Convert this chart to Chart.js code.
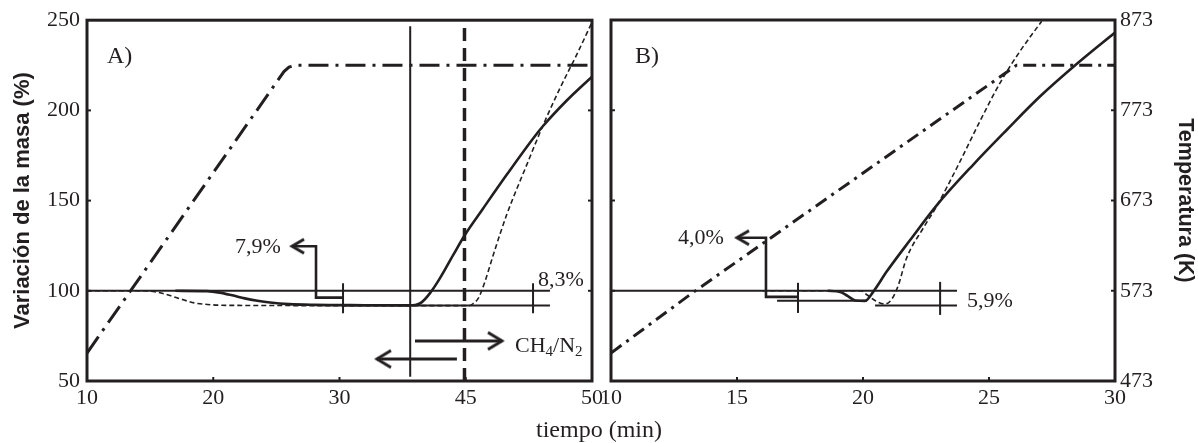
<!DOCTYPE html>
<html><head><meta charset="utf-8">
<script src="https://cdn.jsdelivr.net/npm/chart.js@4.4.1/dist/chart.umd.min.js"></script>
<style>
html,body{margin:0;padding:0;background:#fff;}
#wrap{position:relative;width:1198px;height:443px;overflow:hidden;background:#fff;}
canvas{position:absolute;left:0;top:0;}
#xt{position:absolute;left:0;width:1198px;top:415px;text-align:center;font:24px 'Liberation Serif','Times New Roman',serif;color:#231f20;line-height:28px;}
</style></head><body>
<div id="wrap"><canvas id="cA" width="1198" height="443"></canvas><canvas id="cB" width="1198" height="443"></canvas><div id="xt">tiempo (min)</div></div>
<script>
// ---------- tick values / labels ----------
const xTickValsA = [10, 20, 30, 40, 50];
const xTickLabelsA = ['10', '20', '30', '45', '50'];
const xTickValsB = [10, 15, 20, 25, 30];
const massTickVals = [50, 100, 150, 200, 250];
const tempTickVals = [473, 573, 673, 773, 873];

// ---------- Panel A series ----------
const tA_temp = [10, 25.6, 26.0, 26.5, 50];
const A_temp  = [504, 816, 821, 823, 823];
const tA_solid = [17, 19.5, 20.5, 21.5, 22.5, 23.5, 24.5, 26, 28, 32, 35.5, 36.0, 36.5, 37.17, 37.96, 39.01, 39.94, 41.39, 43.24, 45.35, 46.14, 48.0, 50];
const A_solid  = [100, 99.8, 99, 97.5, 95.8, 94.5, 93.5, 92.6, 92.2, 92.0, 91.9, 92.1, 93.6, 98.7, 107.0, 119.9, 131.1, 145.8, 164.3, 184.6, 191.5, 205.5, 218.7];
const tA_dash = [10, 14.5, 15.5, 16.5, 17.4, 18.5, 20, 22, 30, 40.3, 40.6, 41.0, 41.52, 42.18, 43.24, 44.83, 46.14, 47.47, 48.79, 49.97];
const A_dash  = [100, 100, 99.3, 97.5, 95.5, 93.3, 92.2, 91.9, 91.8, 91.8, 93.0, 95.9, 105.1, 119.9, 142.1, 169.8, 192.0, 212.4, 230.9, 248.4];

// ---------- Panel A reference marks (time, mass) ----------
const A_ref_t = [10, 46.67];            const A_ref_m = [100, 100];
const A_low_t = [30.3, 46.67];          const A_low_m = [91.8, 91.8];
const A_tick1_t = [30.28, 30.28];       const A_tick1_m = [87.6, 104.2];
const A_tick2_t = [45.33, 45.33];       const A_tick2_m = [87.6, 104.2];
const A_brk_t = [26.24, 28.14, 28.14, 30.28]; const A_brk_m = [124.7, 124.7, 96.2, 96.2];
const A_vline_t = [35.6, 35.6];         const A_vline_m = [52.4, 246.6];
const A_vdash_t = [39.9, 39.9];         const A_vdash_m = [50, 246.6];
const A_arrR_t = [35.98, 42.87];        const A_arrR_m = [72.2, 72.2];
const A_arrL_t = [39.3, 32.97];         const A_arrL_m = [62.2, 62.2];

// ---------- Panel B series ----------
const tB_temp = [10, 13.25, 26.1, 30];
const B_temp  = [504, 571, 823, 823];
const tB_solid = [18.6, 19.1, 19.4, 19.7, 20.08, 20.41, 20.94, 21.87, 22.94, 24.37, 25.71, 27.02, 28.5, 30];
const B_solid  = [100, 99.3, 97, 94.6, 94.4, 99.5, 110.6, 128.1, 147.6, 169.8, 189.2, 207.6, 225.9, 243.1];
const tB_dash = [16, 19.9, 20.15, 20.55, 20.87, 21.14, 21.4, 21.73, 22.39, 22.92, 23.72, 24.64, 25.44, 26.23, 27.09];
const B_dash  = [100, 100, 97.8, 94.0, 92.7, 95.3, 103, 118.1, 134.7, 146.7, 168.0, 193.9, 215.2, 232.7, 249.3];

// ---------- Panel B reference marks ----------
const B_ref_t = [10, 23.73];            const B_ref_m = [100, 100];
const B_lowL_t = [16.59, 20.16];        const B_lowL_m = [94.4, 94.4];
const B_lowR_t = [20.48, 23.73];        const B_lowR_m = [91.8, 91.8];
const B_tick1_t = [17.42, 17.42];       const B_tick1_m = [87.7, 104.4];
const B_tick2_t = [23.06, 23.06];       const B_tick2_m = [86.6, 104.9];
const B_brk_t = [15.0, 16.15, 16.15, 17.42]; const B_brk_m = [129.4, 129.4, 96.6, 96.6];

// ---------- styling ----------
const INK = '#231f20';
const SERIF = "'Liberation Serif','Times New Roman',serif";
const SANS = "'Liberation Sans',Arial,sans-serif";

const pts = (xs, ys) => xs.map((x, i) => ({x: x, y: ys[i]}));
function ds(xs, ys, o) {
  return Object.assign({data: pts(xs, ys), borderColor: INK, backgroundColor: INK, pointRadius: 0,
    fill: false, tension: 0, borderCapStyle: 'butt', yAxisID: 'y', borderWidth: 2}, o || {});
}
function chevron(L, H, w) {
  const c = document.createElement('canvas');
  c.width = 2 * (L + 4); c.height = 2 * (H + 4);
  const g = c.getContext('2d');
  const cx = c.width / 2, cy = c.height / 2;
  g.strokeStyle = INK; g.lineWidth = w; g.lineJoin = 'miter'; g.lineCap = 'butt';
  g.beginPath(); g.moveTo(cx + L, cy - H); g.lineTo(cx, cy); g.lineTo(cx + L, cy + H); g.stroke();
  return c;
}
const headBig = chevron(14, 8.5, 3);
const headSmall = chevron(12, 7, 3);
function head(t, m, img, rot) {
  return {data: [{x: t, y: m}], showLine: false, pointRadius: 6, pointStyle: img, pointRotation: rot,
    borderColor: INK, backgroundColor: INK, yAxisID: 'y'};
}

function framePlugin(cfg) {
  return {
    id: 'frame' + cfg.name,
    afterDatasetsDraw(chart) {
      const ctx = chart.ctx, a = chart.chartArea;
      const xs = chart.scales.x, ys = chart.scales.y;
      ctx.save();
      ctx.strokeStyle = INK;
      ctx.lineWidth = 2;
      const seg = (x1, y1, x2, y2) => { ctx.beginPath(); ctx.moveTo(x1, y1); ctx.lineTo(x2, y2); ctx.stroke(); };
      cfg.xInner.forEach(v => { const p = xs.getPixelForValue(v); seg(p, a.bottom, p, a.bottom - 4); });
      cfg.yInner.forEach(v => { const p = ys.getPixelForValue(v); seg(a.left, p, a.left + 4, p); seg(a.right, p, a.right - 4, p); });
      ctx.lineWidth = 3;
      ctx.strokeRect(a.left, a.top, a.right - a.left, a.bottom - a.top);
      ctx.fillStyle = INK;
      ctx.textBaseline = 'alphabetic';
      ctx.textAlign = 'left';
      cfg.texts.forEach(t => {
        let x = xs.getPixelForValue(t.x);
        const y = ys.getPixelForValue(t.y);
        t.parts.forEach(p => {
          ctx.font = (p.sub ? 15 : t.size) + 'px ' + SERIF;
          ctx.fillText(p.s, x, y + (p.sub ? 4 : 0));
          x += ctx.measureText(p.s).width;
        });
      });
      ctx.restore();
    }
  };
}

const tickFont = {family: SERIF, size: 22};
const noGrid = {display: false, drawTicks: false, tickLength: 0};

// ---------- Panel A ----------
new Chart(document.getElementById('cA'), {
  type: 'line',
  data: {datasets: [
    ds(tA_temp, A_temp, {yAxisID: 'yT', borderWidth: 3, borderDash: [20, 7, 3, 7]}),
    ds(A_ref_t, A_ref_m, {borderWidth: 2}),
    ds(A_low_t, A_low_m, {borderWidth: 2}),
    ds(A_tick1_t, A_tick1_m, {borderWidth: 2}),
    ds(A_tick2_t, A_tick2_m, {borderWidth: 2}),
    ds(A_brk_t, A_brk_m, {borderWidth: 2.6, borderJoinStyle: 'miter'}),
    head(A_brk_t[0], A_brk_m[0], headSmall, 0),
    ds(A_vline_t, A_vline_m, {borderWidth: 2}),
    ds(A_vdash_t, A_vdash_m, {borderWidth: 3.5, borderDash: [13, 7]}),
    ds(A_arrR_t, A_arrR_m, {borderWidth: 3}),
    head(A_arrR_t[1], A_arrR_m[1], headBig, 180),
    ds(A_arrL_t, A_arrL_m, {borderWidth: 3}),
    head(A_arrL_t[1], A_arrL_m[1], headBig, 0),
    ds(tA_solid, A_solid, {borderWidth: 2.6, cubicInterpolationMode: 'monotone'}),
    ds(tA_dash, A_dash, {borderWidth: 1.6, borderDash: [5, 3], cubicInterpolationMode: 'monotone'})
  ]},
  options: {
    responsive: false, animation: false,
    layout: {padding: {left: 0, right: 606, top: 20, bottom: 0}},
    plugins: {legend: {display: false}, tooltip: {enabled: false}},
    scales: {
      x: {type: 'linear', min: 10, max: 50,
        afterBuildTicks: s => { s.ticks = xTickValsA.map(v => ({value: v})); },
        ticks: {callback: (v, i) => xTickLabelsA[i], font: tickFont, color: INK, padding: 4, maxRotation: 0, autoSkip: false},
        grid: noGrid, border: {display: false},
        afterFit: s => { s.height = 62; }},
      y: {axis: 'y', position: 'left', min: 50, max: 250,
        afterBuildTicks: s => { s.ticks = massTickVals.map(v => ({value: v})); },
        ticks: {font: tickFont, color: INK, padding: 7},
        grid: noGrid, border: {display: false},
        title: {display: true, text: 'Variación de la masa (%)', color: INK,
          font: {family: SANS, size: 22, weight: 'bold'}, padding: {top: 10, bottom: 0}},
        afterFit: s => { s.width = 87; }},
      yT: {axis: 'y', display: false, min: 473, max: 873}
    }
  },
  plugins: [framePlugin({name: 'A', xInner: [20, 30, 40], yInner: [100, 150, 200],
    texts: [
      {x: 11.58, y: 226.4, size: 24, parts: [{s: 'A)'}]},
      {x: 21.72, y: 121.0, size: 22, parts: [{s: '7,9%'}]},
      {x: 45.72, y: 102.6, size: 22, parts: [{s: '8,3%'}]},
      {x: 43.9, y: 66.1, size: 22, parts: [{s: 'CH'}, {s: '4', sub: true}, {s: '/N'}, {s: '2', sub: true}]}
    ]})]
});

// ---------- Panel B ----------
new Chart(document.getElementById('cB'), {
  type: 'line',
  data: {datasets: [
    ds(tB_temp, B_temp, {yAxisID: 'yT', borderWidth: 3, borderDash: [13, 6, 3, 6]}),
    ds(B_ref_t, B_ref_m, {borderWidth: 2}),
    ds(B_lowL_t, B_lowL_m, {borderWidth: 2}),
    ds(B_lowR_t, B_lowR_m, {borderWidth: 2}),
    ds(B_tick1_t, B_tick1_m, {borderWidth: 2}),
    ds(B_tick2_t, B_tick2_m, {borderWidth: 2}),
    ds(B_brk_t, B_brk_m, {borderWidth: 2.6, borderJoinStyle: 'miter'}),
    head(B_brk_t[0], B_brk_m[0], headSmall, 0),
    ds(tB_solid, B_solid, {borderWidth: 2.6, cubicInterpolationMode: 'monotone'}),
    ds(tB_dash, B_dash, {borderWidth: 1.6, borderDash: [5, 3], cubicInterpolationMode: 'monotone'})
  ]},
  options: {
    responsive: false, animation: false,
    layout: {padding: {left: 611, right: 0, top: 20, bottom: 0}},
    plugins: {legend: {display: false}, tooltip: {enabled: false}},
    scales: {
      x: {type: 'linear', min: 10, max: 30,
        afterBuildTicks: s => { s.ticks = xTickValsB.map(v => ({value: v})); },
        ticks: {font: tickFont, color: INK, padding: 4, maxRotation: 0, autoSkip: false},
        grid: noGrid, border: {display: false},
        afterFit: s => { s.height = 62; }},
      y: {axis: 'y', display: false, min: 50, max: 250},
      yT: {axis: 'y', position: 'right', min: 473, max: 873,
        afterBuildTicks: s => { s.ticks = tempTickVals.map(v => ({value: v})); },
        ticks: {font: tickFont, color: INK, padding: 5},
        grid: noGrid, border: {display: false},
        title: {display: true, text: 'Temperatura (K)', color: INK,
          font: {family: SANS, size: 21.5, weight: 'bold'}, padding: {top: 0, bottom: 0}},
        afterFit: s => { s.width = 83; }}
    }
  },
  plugins: [framePlugin({name: 'B', xInner: [15, 20, 25], yInner: [100, 150, 200],
    texts: [
      {x: 10.95, y: 226.4, size: 24, parts: [{s: 'B)'}]},
      {x: 12.66, y: 126.0, size: 22, parts: [{s: '4,0%'}]},
      {x: 24.13, y: 91.1, size: 22, parts: [{s: '5,9%'}]}
    ]})]
});
</script>
</body></html>
